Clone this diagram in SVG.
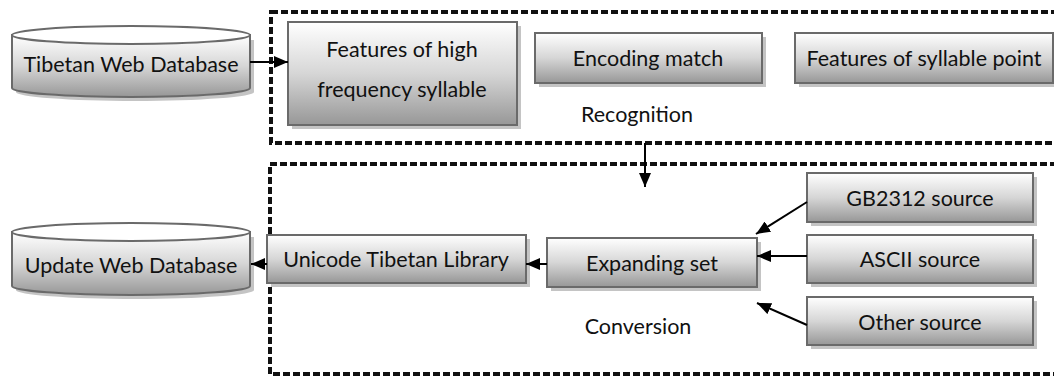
<svg xmlns="http://www.w3.org/2000/svg" width="1054" height="378" viewBox="0 0 1054 378">
<defs>
<linearGradient id="g" x1="0" y1="0" x2="0" y2="1">
<stop offset="0" stop-color="#ffffff"/>
<stop offset="0.5" stop-color="#d6d6d6"/>
<stop offset="1" stop-color="#979797"/>
</linearGradient>
<marker id="ah" viewBox="0 0 14 12" refX="14" refY="6" markerWidth="14" markerHeight="12" markerUnits="userSpaceOnUse" orient="auto">
<path d="M0,0 L14,6 L0,12 Z" fill="#000"/>
</marker>
</defs>
<style>
.box{fill:url(#g);stroke:#6a6a6a;stroke-width:2}
.sh{fill:#c4c4c4}
.top{fill:#fff;stroke:#6a6a6a;stroke-width:2}
.t{font-family:"Lato","Liberation Sans",sans-serif;font-size:21.5px;fill:#111;text-anchor:middle}
.lbl{font-family:"Lato","Liberation Sans",sans-serif;font-size:21.5px;fill:#111;text-anchor:middle}
.dash{fill:none;stroke:#111;stroke-width:4;stroke-dasharray:7 3}
.c{stroke:#000;stroke-width:2;fill:none}
</style>
<g id="recognition-group">
<rect class="dash" x="271" y="12" width="800" height="131"/>
<text class="lbl" x="637" y="122">Recognition</text>
</g>
<g id="conversion-group">
<rect class="dash" x="270" y="164" width="800" height="210"/>
<text class="lbl" x="638" y="334">Conversion</text>
</g>
<g id="tibetan-db">
<path class="sh" d="M16,40 L16,92 A119,9 0 0 0 254,92 L254,40 Z"/>
<path class="box" d="M12,35 L12,88 A119,9 0 0 0 250,88 L250,35 Z"/>
<ellipse class="top" cx="131" cy="35" rx="119" ry="9"/>
<text class="t" x="131" y="72">Tibetan Web Database</text>
</g>
<g id="update-db">
<path class="sh" d="M16,237 L16,290 A119,9 0 0 0 254,290 L254,237 Z"/>
<path class="box" d="M12,232 L12,286 A119,9 0 0 0 250,286 L250,232 Z"/>
<ellipse class="top" cx="131" cy="232" rx="119" ry="9"/>
<text class="t" x="131" y="273">Update Web Database</text>
</g>
<g id="high-freq">
<rect class="sh" x="292" y="26" width="229" height="103"/>
<rect class="box" x="288" y="22" width="229" height="103"/>
<text class="t" x="402" y="57">Features of high</text>
<text class="t" x="402" y="97">frequency syllable</text>
</g>
<g id="encoding-match">
<rect class="sh" x="539" y="37" width="227" height="50"/>
<rect class="box" x="535" y="33" width="227" height="50"/>
<text class="t" x="648" y="66">Encoding match</text>
</g>
<g id="syllable-point">
<rect class="sh" x="799" y="37" width="258" height="50"/>
<rect class="box" x="795" y="33" width="258" height="50"/>
<text class="t" x="924" y="66">Features of syllable point</text>
</g>
<g id="unicode-lib">
<rect class="sh" x="271" y="239" width="259" height="48"/>
<rect class="box" x="267" y="235" width="259" height="48"/>
<text class="t" x="396" y="267">Unicode Tibetan Library</text>
</g>
<g id="expanding-set">
<rect class="sh" x="551" y="242" width="210" height="49"/>
<rect class="box" x="547" y="238" width="210" height="49"/>
<text class="t" x="652" y="271">Expanding set</text>
</g>
<g id="gb2312">
<rect class="sh" x="811" y="177" width="226" height="49"/>
<rect class="box" x="807" y="173" width="226" height="49"/>
<text class="t" x="920" y="206">GB2312 source</text>
</g>
<g id="ascii">
<rect class="sh" x="811" y="239" width="226" height="48"/>
<rect class="box" x="807" y="235" width="226" height="48"/>
<text class="t" x="920" y="267">ASCII source</text>
</g>
<g id="other">
<rect class="sh" x="811" y="301" width="226" height="48"/>
<rect class="box" x="807" y="297" width="226" height="48"/>
<text class="t" x="920" y="330">Other source</text>
</g>
<g id="connectors">
<line class="c" x1="250" y1="62" x2="288" y2="62" marker-end="url(#ah)"/>
<line class="c" x1="645" y1="143" x2="645" y2="187" marker-end="url(#ah)"/>
<line class="c" x1="547" y1="264" x2="526" y2="264" marker-end="url(#ah)"/>
<line class="c" x1="267" y1="264" x2="251" y2="264" marker-end="url(#ah)"/>
<line class="c" x1="807" y1="202" x2="756" y2="234" marker-end="url(#ah)"/>
<line class="c" x1="807" y1="256" x2="757" y2="256" marker-end="url(#ah)"/>
<line class="c" x1="807" y1="325" x2="757" y2="303" marker-end="url(#ah)"/>
</g>
</svg>
